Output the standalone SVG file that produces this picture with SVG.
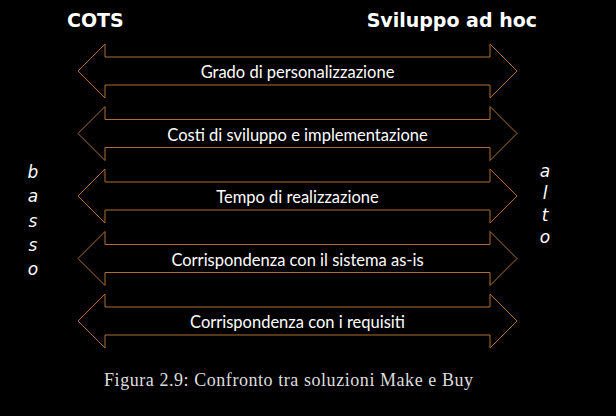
<svg xmlns="http://www.w3.org/2000/svg" width="616" height="416" viewBox="0 0 616 416">
<style>
.arrow{fill:#000;stroke:#B06E2E;stroke-width:1;stroke-linejoin:miter}
.lbl{font-family:Lato,"Open Sans",sans-serif;font-size:16.5px;fill:#fff;text-anchor:middle}
.title{font-family:"DejaVu Sans",sans-serif;font-weight:bold;font-size:19px;fill:#fff}
.side{font-family:"DejaVu Sans",sans-serif;font-style:italic;font-size:17px;fill:#fff;text-anchor:middle}
.cap{font-family:"Liberation Serif","DejaVu Serif",serif;font-size:18px;fill:#ddd}
</style>
<defs>
<path id="dbl" class="arrow" d="M78,0 L105,-27 L105,-14 L490,-14 L490,-27 L517,0 L490,27 L490,14 L105,14 L105,27 Z"/>
</defs>
<rect width="616" height="416" fill="#000"/>
<g id="titles">
<text class="title" x="67" y="27">COTS</text>
<text class="title" x="537" y="27" text-anchor="end">Sviluppo ad hoc</text>
</g>
<g id="connectors">
<use href="#dbl" transform="translate(0,71)"/>
<use href="#dbl" transform="translate(0,133.5)"/>
<use href="#dbl" transform="translate(0,196)"/>
<use href="#dbl" transform="translate(0,258.5)"/>
<use href="#dbl" transform="translate(0,321)"/>
</g>
<g id="node1"><text class="lbl" x="297.5" y="78">Grado di personalizzazione</text></g>
<g id="node2"><text class="lbl" x="297.5" y="140.5">Costi di sviluppo e implementazione</text></g>
<g id="node3"><text class="lbl" x="297.5" y="203">Tempo di realizzazione</text></g>
<g id="node4"><text class="lbl" x="297.5" y="265.5">Corrispondenza con il sistema as-is</text></g>
<g id="node5"><text class="lbl" x="297.5" y="328">Corrispondenza con i requisiti</text></g>
<g id="basso">
<text class="side" x="33" y="178">b</text>
<text class="side" x="33" y="202">a</text>
<text class="side" x="33" y="227">s</text>
<text class="side" x="33" y="251">s</text>
<text class="side" x="33" y="275">o</text>
</g>
<g id="alto">
<text class="side" x="545" y="177">a</text>
<text class="side" x="545" y="199">l</text>
<text class="side" x="545" y="221">t</text>
<text class="side" x="545" y="243">o</text>
</g>
<text class="cap" x="104" y="386" textLength="369" lengthAdjust="spacing">Figura 2.9: Confronto tra soluzioni Make e Buy</text>
</svg>
